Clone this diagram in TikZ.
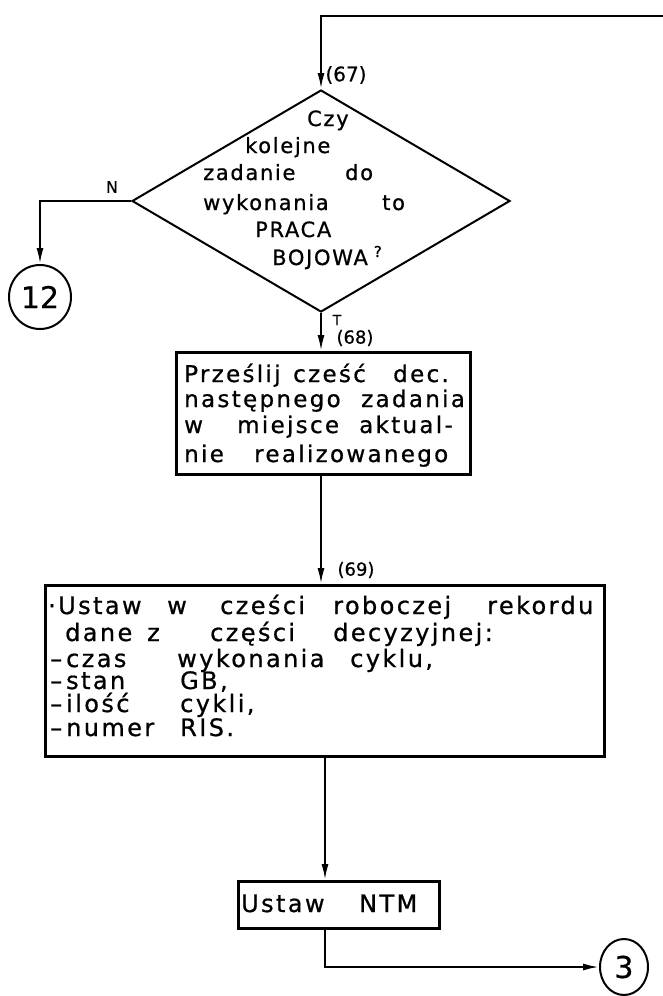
\documentclass[tikz,border=0pt]{standalone}
\usepackage{fontspec}
\usetikzlibrary{arrows.meta,shapes.geometric}
\newfontfamily\hand[LetterSpace=10,FakeBold=0.8]{DejaVu Sans}
\newfontfamily\handd[LetterSpace=8,FakeBold=0.8]{DejaVu Sans}
\newfontfamily\lbl[FakeBold=0.6]{DejaVu Sans}
\newcommand{\wb}[2]{\makebox[#1pt][l]{#2}}
\begin{document}
\begin{tikzpicture}[x=1pt,y=-1pt,
  arr/.style={line width=2pt,-{Latex[length=16pt,width=7pt]}},
  boxst/.style={draw,line width=2.6pt,inner sep=0pt,anchor=north west},
  txt/.style={inner sep=0pt,anchor=base west,font=\hand\fontsize{24}{24}\selectfont},
  txta/.style={inner sep=0pt,anchor=base west,font=\hand\fontsize{23}{23}\selectfont},
  dtxt/.style={inner sep=0pt,anchor=base west,font=\handd\fontsize{21}{21}\selectfont},
  lab/.style={inner sep=0pt,font=\lbl\fontsize{18}{18}\selectfont},
  conn/.style={draw,ellipse,line width=2pt,inner sep=0pt,font=\lbl\fontsize{30}{30}\selectfont}]
\fill[white] (0,0) rectangle (663,996);
\useasboundingbox (0,0) rectangle (663,996);

% shapes
\node[draw,diamond,line width=2pt,minimum width=378pt,minimum height=222pt,inner sep=0pt] (d) at (321,201) {};
\node[boxst,minimum width=294pt,minimum height=122pt] (b1) at (175,351) {};
\node[boxst,minimum width=559pt,minimum height=171pt] (b2) at (44,584) {};
\node[boxst,minimum width=201pt,minimum height=47pt] (b3) at (237,880) {};
\node[conn,minimum width=62pt,minimum height=64pt] (c12) at (40,297) {12};
\node[conn,minimum width=48pt,minimum height=56pt] (c3) at (624,967) {3};

% connectors
\coordinate (ent) at (663,16);
\coordinate (sp) at (325,0);
\draw[arr] (ent) -| (d.north);
\draw[arr] (d.west) -| (c12.north);
\draw[arr] (d.south) -- (b1.north -| d.south);
\draw[arr] (b1.south -| d.south) -- (b2.north -| d.south);
\draw[arr] (b2.south -| sp) -- (b3.north -| sp);
\draw[arr] (b3.south -| sp) |- (c3.west);

% labels
\node[lab,font=\lbl\fontsize{20}{20}\selectfont] (l67) at (346,75) {(67)};
\node[lab,font=\lbl\fontsize{16}{16}\selectfont] (lN) at (112,187) {N};
\node[lab,font=\lbl\fontsize{14}{14}\selectfont] (lT) at (337,320) {T};
\node[lab] (l68) at (355,338) {(68)};
\node[lab] (l69) at (356,570) {(69)};

% diamond text
\node[dtxt] (d1) at (307,126) {Czy};
\node[dtxt] (d2) at (245,153) {kolejne};
\node[dtxt] (d3) at (203,180) {\wb{142}{zadanie}do};
\node[dtxt] (d4) at (203,210) {\wb{179}{wykonania}to};
\node[dtxt] (d5) at (255,237) {PRACA};
\node[dtxt] (d6) at (272,265) {BOJOWA\hspace{6pt}\raisebox{8pt}{\fontsize{15}{15}\selectfont ?}};

% box 1 text
\node[txta] (t11) at (184,382) {\wb{109}{Prześlij}\wb{100}{cześć}dec.};
\node[txta] (t12) at (184,407) {\wb{177}{następnego}zadania};
\node[txta] (t13) at (184,433) {\wb{53}{w}\wb{122}{miejsce}aktual-};
\node[txta] (t14) at (184,462) {\wb{70}{nie}realizowanego};

% box 2 text
\node[txt] (t21) at (48,614) {\wb{119}{·Ustaw}\wb{53}{w}\wb{113}{cześci}\wb{154}{roboczej}rekordu};
\node[txt] (t22) at (65,641) {\wb{82}{dane}\wb{63}{z}\wb{123}{części}decyzyjnej:};
\node[txt] (t23) at (50,667) {\wb{127}{–\,czas}\wb{173}{wykonania}cyklu,};
\node[txt] (t24) at (50,689) {\wb{130}{–\,stan}GB,};
\node[txt] (t25) at (50,712) {\wb{130}{–\,ilość}cykli,};
\node[txt] (t26) at (50,736) {\wb{130}{–\,numer}RIS.};

% box 3 text
\node[txt] (t31) at (241,912) {\wb{118}{Ustaw}NTM};
\end{tikzpicture}
\end{document}
